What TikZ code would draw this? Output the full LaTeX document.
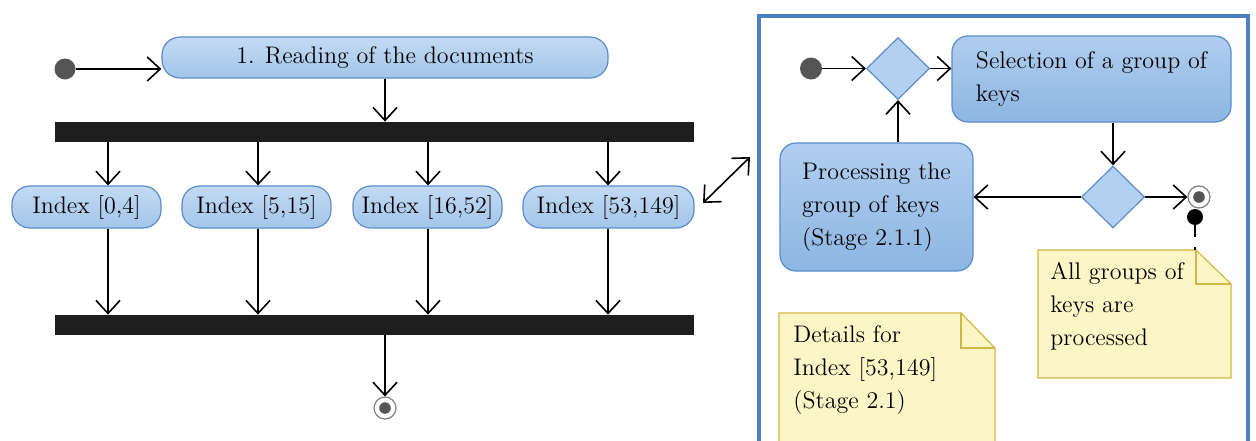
\documentclass[tikz,border=0pt]{standalone}
\usetikzlibrary{arrows.meta,shapes.geometric}

\definecolor{actline}{HTML}{5A8CCC}
\definecolor{acttop}{HTML}{C3DAF3}
\definecolor{actbot}{HTML}{A2C5E9}
\definecolor{subtop}{HTML}{B0CEEF}
\definecolor{subbot}{HTML}{8DB6E2}
\definecolor{decfill}{HTML}{B3D0F0}
\definecolor{notefill}{HTML}{FCF6C6}
\definecolor{noteline}{HTML}{D2B843}
\definecolor{framecol}{HTML}{4C80C2}
\definecolor{barcol}{HTML}{1E1E1E}
\definecolor{dotcol}{HTML}{555555}

\tikzset{
  arr/.style={-{Straight Barb[length=6.5pt,width=12pt,line width=0.8pt]}, line width=0.7pt},
  dblarr/.style={{Straight Barb[length=6.5pt,width=12pt,line width=0.8pt]}-{Straight Barb[length=6.5pt,width=12pt,line width=0.8pt]}, line width=0.8pt},
  action/.style={draw=actline, line width=0.6pt, rounded corners=9pt,
    top color=acttop, bottom color=actbot, inner sep=0pt},
  subaction/.style={draw=actline, line width=0.6pt, rounded corners=8pt,
    top color=subtop, bottom color=subbot, inner sep=0pt, align=left},
  decision/.style={diamond, draw=actline, line width=0.6pt, fill=decfill,
    inner sep=0pt, minimum width=31.5pt, minimum height=31pt},
  bar/.style={fill=barcol, inner sep=0pt, minimum width=319.5pt, minimum height=10pt},
  initial/.style={circle, fill=dotcol, inner sep=0pt, minimum size=10.5pt},
  final/.style={circle, draw=gray, line width=0.6pt, fill=white, inner sep=0pt, minimum size=11pt,
    path picture={\fill[dotcol] (path picture bounding box.center) circle (2.9pt);}},
  note/.style={fill=notefill, draw=noteline, line width=0.6pt},
  notetext/.style={anchor=west, align=left, inner sep=0pt}
}

\begin{document}
\begin{tikzpicture}[x=0.5pt, y=-0.5pt, font=\fontsize{12}{16.5}\selectfont]
  \useasboundingbox (0,0) rectangle (1256,440);
  \clip (0,0) rectangle (1256,440);

  % left part: reading and indexing
  \node[initial] (start1) at (65,69) {};
  \node[action, minimum width=223pt, minimum height=20.5pt] (read) at (385,57.5) {1. Reading of the documents};
  \node[bar] (fork) at (374.5,132) {};
  \node[action, minimum width=74.5pt, minimum height=21pt] (idx1) at (86.5,207) {Index [0,4]};
  \node[action, minimum width=74.5pt, minimum height=21pt] (idx2) at (256.5,207) {Index [5,15]};
  \node[action, minimum width=74.5pt, minimum height=21pt] (idx3) at (427.5,207) {Index [16,52]};
  \node[action, minimum width=85.5pt, minimum height=21pt] (idx4) at (608.5,207) {Index [53,149]};
  \node[bar] (join) at (374.5,325) {};
  \node[final] (end1) at (385,408) {};

  \draw[arr] (start1) -- (start1 -| read.west);
  \draw[arr] (read.south) -- (read.south |- fork.north);
  \foreach \n/\x in {1/108,2/258,3/428,4/608}{
    \draw[arr] (\x,0 |- fork.south) -- (\x,0 |- idx\n.north);
    \draw[arr] (\x,0 |- idx\n.south) -- (\x,0 |- join.north);
  }
  \draw[arr] (join.south -| end1) -- (end1.north);

  % link to the details
  \coordinate (lnkA) at (703,203);
  \coordinate (lnkB) at (750,157);
  \draw[dblarr] (lnkA) -- (lnkB);

  % right part: details for index [53,149]
  \draw[framecol, line width=2.3pt] (759,446) -- (759,16) -- (1248,16) -- (1248,446);

  \node[initial, minimum size=11pt] (start2) at (811,68.5) {};
  \node[decision] (dec1) at (898,68.5) {};
  \node[subaction, minimum width=139.5pt, minimum height=43pt] (select) at (1091.5,79) {Selection of a group of\\keys};
  \node[decision] (dec2) at (1113,197) {};
  \node[subaction, minimum width=96.5pt, minimum height=64pt] (proc) at (876.5,207) {Processing the\\group of keys\\(Stage 2.1.1)};
  \node[final] (end2) at (1199,197) {};
  \node[circle, fill=black, inner sep=0pt, minimum size=8pt] (anchor2) at (1195,217) {};

  \draw[arr] (start2) -- (dec1.west);
  \draw[arr] (dec1.east) -- (dec1.east -| select.west);
  \draw[arr] (dec2.north |- select.south) -- (dec2.north);
  \draw[arr] (dec2.west) -- (dec2.west -| proc.east);
  \draw[arr] (proc.north -| dec1.south) -- (dec1.south);
  \draw[arr] (dec2.east) -- (end2.west);

  % notes
  \draw[note] (1038,250) -- (1196,250) -- (1231,284) -- (1231,378) -- (1038,378) -- cycle;
  \draw[noteline, line width=0.6pt] (1196,250) -- (1196,284) -- (1231,284);
  \node[notetext] (donenote) at (1050,306) {All groups of\\keys are\\processed};
  \draw[black, line width=0.8pt, dash pattern=on 6pt off 5pt] (anchor2.south) -- (1195,250);

  \draw[note] (779,313) -- (961,313) -- (995,348) -- (995,450) -- (779,450) -- cycle;
  \draw[noteline, line width=0.6pt] (961,313) -- (961,348) -- (995,348);
  \node[notetext] (detailnote) at (793,370) {Details for\\Index [53,149]\\(Stage 2.1)};
\end{tikzpicture}
\end{document}
